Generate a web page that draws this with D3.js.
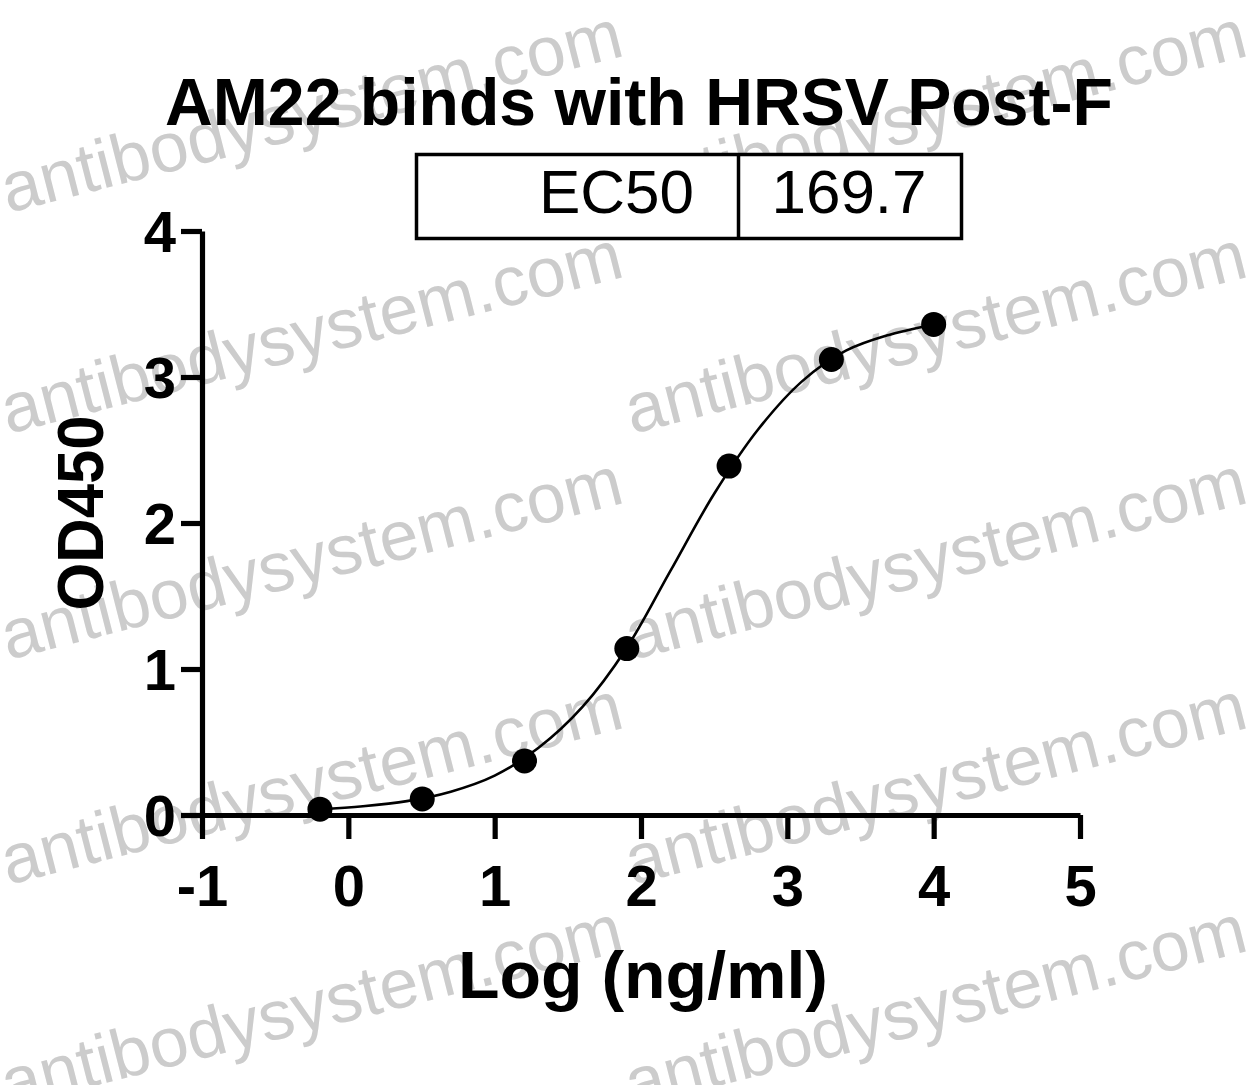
<!DOCTYPE html>
<html>
<head>
<meta charset="utf-8">
<script src="https://cdn.jsdelivr.net/npm/d3@7"></script>
<style>
  html, body { margin: 0; padding: 0; background: #fff; }
  svg { display: block; }
  text { font-family: "Liberation Sans", Arial, Helvetica, sans-serif; }
</style>
</head>
<body>
<svg id="chart" width="1251" height="1085"></svg>
<script>
// ---------------- data ----------------
const chartTitle = "AM22 binds with HRSV Post-F";
const xAxisTitle = "Log (ng/ml)";
const yAxisTitle = "OD450";
const ec50Label = "EC50";
const ec50Value = "169.7";
const watermarkText = "antibodysystem.com";

// measured points: log10 concentration (ng/ml) and OD450
const pointX = [-0.194, 0.505, 1.204, 1.903, 2.602, 3.301, 4.0];
const pointY = [0.04, 0.11, 0.37, 1.14, 2.39, 3.12, 3.36];

// fitted curve
const curveX = [-0.2, 0.1, 0.4, 0.7, 1.0, 1.3, 1.6, 1.9, 2.2, 2.5, 2.8, 3.1, 3.4, 3.7, 4.0];
const curveY = [0.04, 0.06, 0.095, 0.16, 0.27, 0.46, 0.74, 1.14, 1.67, 2.20, 2.64, 2.97, 3.18, 3.29, 3.36];

const xTicks = [-1, 0, 1, 2, 3, 4, 5];
const xTickLabels = ["-1", "0", "1", "2", "3", "4", "5"];
const yTicks = [0, 1, 2, 3, 4];
const yTickLabels = ["0", "1", "2", "3", "4"];
const xDomain = [-1, 5];
const yDomain = [0, 4];

// ---------------- drawing ----------------
const svg = d3.select("#chart");
const W = 1251, H = 1085;
svg.append("rect").attr("width", W).attr("height", H).attr("fill", "#fff");

// watermarks (underneath)
const wm = svg.append("g").attr("fill", "#cccccc");
const wmRows = [213, 434, 660, 885, 1108];
const wmCols = [8, 632];
wmRows.forEach(ry => wmCols.forEach(cx => {
  wm.append("text")
    .attr("transform", `translate(${cx},${ry}) rotate(-14.3)`)
    .attr("font-size", 70)
    .text(watermarkText);
}));

const x = d3.scaleLinear().domain(xDomain).range([202, 1080]);
const y = d3.scaleLinear().domain(yDomain).range([815, 231]);

const AXW = 5.2;
const FONT = '"Liberation Sans", Arial, sans-serif';

// x axis
const gx = svg.append("g").attr("transform", `translate(0,${y(0)})`)
  .call(d3.axisBottom(x).tickValues(xTicks).tickSize(24).tickSizeOuter(0).tickPadding(26)
        .tickFormat((d, i) => xTickLabels[i]));
gx.select(".domain").attr("stroke", "#000").attr("stroke-width", AXW);
gx.selectAll(".tick line").attr("stroke", "#000").attr("stroke-width", AXW);
gx.selectAll(".tick text").attr("fill", "#000").attr("font-size", 58).attr("font-weight", "bold")
  .style("font-family", FONT);

// y axis
const gy = svg.append("g").attr("transform", `translate(${x(-1)},0)`)
  .call(d3.axisLeft(y).tickValues(yTicks).tickSize(21).tickSizeOuter(0).tickPadding(5)
        .tickFormat((d, i) => yTickLabels[i]));
gy.select(".domain").attr("stroke", "#000").attr("stroke-width", AXW);
gy.selectAll(".tick line").attr("stroke", "#000").attr("stroke-width", AXW);
gy.selectAll(".tick text").attr("fill", "#000").attr("font-size", 58).attr("font-weight", "bold")
  .attr("dy", "0.36em")
  .style("font-family", FONT);

// curve
const curveData = curveX.map((v, i) => [v, curveY[i]]);
svg.append("path")
  .datum(curveData)
  .attr("fill", "none").attr("stroke", "#000").attr("stroke-width", 2.6)
  .attr("d", d3.line().x(d => x(d[0])).y(d => y(d[1])).curve(d3.curveCatmullRom.alpha(0.5)));

// points
svg.append("g").selectAll("circle")
  .data(pointX.map((v, i) => [v, pointY[i]]))
  .join("circle")
  .attr("cx", d => x(d[0])).attr("cy", d => y(d[1])).attr("r", 12.5).attr("fill", "#000");

// title
svg.append("text")
  .attr("x", 639).attr("y", 125).attr("text-anchor", "middle")
  .attr("font-size", 66).attr("font-weight", "bold").attr("fill", "#000")
  .attr("textLength", 948).attr("lengthAdjust", "spacingAndGlyphs")
  .text(chartTitle);

// axis titles
svg.append("text")
  .attr("x", 643).attr("y", 998).attr("text-anchor", "middle")
  .attr("font-size", 66).attr("font-weight", "bold").attr("fill", "#000")
  .attr("textLength", 370).attr("lengthAdjust", "spacingAndGlyphs")
  .text(xAxisTitle);
svg.append("text")
  .attr("transform", `translate(103,${(y(0) + y(4)) / 2 - 10}) rotate(-90)`)
  .attr("text-anchor", "middle")
  .attr("font-size", 64).attr("font-weight", "bold").attr("fill", "#000")
  .attr("textLength", 195).attr("lengthAdjust", "spacingAndGlyphs")
  .text(yAxisTitle);

// EC50 table
const box = svg.append("g");
box.append("rect").attr("x", 416.5).attr("y", 154.5).attr("width", 545).attr("height", 84)
  .attr("fill", "#fff").attr("stroke", "#000").attr("stroke-width", 3.5);
box.append("line").attr("x1", 738.5).attr("x2", 738.5).attr("y1", 154.5).attr("y2", 238.5)
  .attr("stroke", "#000").attr("stroke-width", 3.5);
box.append("text").attr("x", 694).attr("y", 213).attr("text-anchor", "end")
  .attr("font-size", 62).attr("fill", "#000").text(ec50Label);
box.append("text").attr("x", 849).attr("y", 213).attr("text-anchor", "middle")
  .attr("font-size", 62).attr("fill", "#000").text(ec50Value);
</script>
</body>
</html>
